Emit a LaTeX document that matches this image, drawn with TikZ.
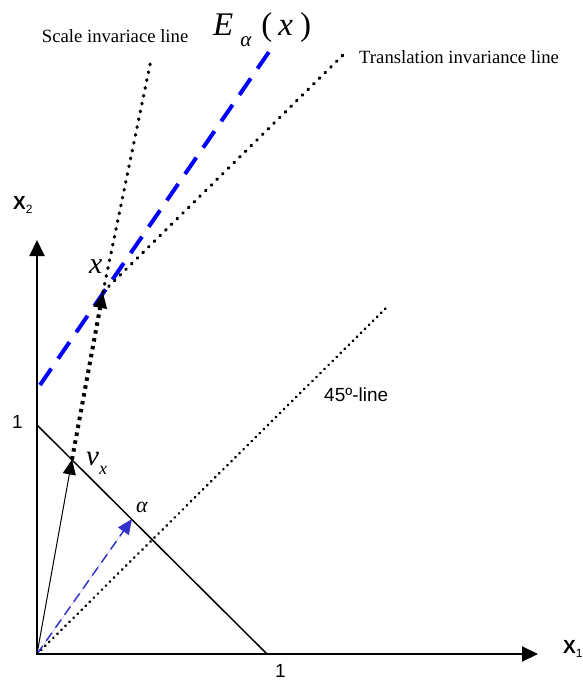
\documentclass[tikz,border=0pt]{standalone}
\usepackage{fontspec}
\setmainfont{Liberation Serif}
\newfontfamily\arialfont{Liberation Sans}
\usetikzlibrary{arrows.meta}
\definecolor{midblue}{RGB}{51,51,204}
\begin{document}
\begin{tikzpicture}[x=1pt,y=-1pt,
  axis/.style={line width=2pt,-{Triangle[length=16pt,width=15pt]}},
  simplex/.style={line width=1.5pt},
  thinarrow/.style={line width=1pt,-{Triangle[length=15pt,width=13pt]}},
  bigdots/.style={line width=4pt,dash pattern=on 3.5pt off 4.5pt,-{Triangle[length=16pt,width=13pt]}},
  invdots/.style={line width=3.2pt,line cap=round,dash pattern=on 0.8pt off 7.2pt},
  diagdots/.style={line width=2.6pt,line cap=round,dash pattern=on 0.5pt off 5.2pt},
  eline/.style={draw=blue,line width=4pt,dash pattern=on 20pt off 12pt},
  alphaarrow/.style={draw=midblue,fill=midblue,line width=1.5pt,dash pattern=on 10pt off 6pt,-{Triangle[length=15pt,width=13pt]}},
  serif/.style={inner sep=0pt,font=\fontsize{18.7}{20}\selectfont},
  sans/.style={inner sep=0pt,font=\arialfont\fontsize{19}{20}\selectfont},
  axlab/.style={inner sep=0pt,font=\arialfont\bfseries\fontsize{19}{20}\selectfont}
]
\fill[white] (0,0) rectangle (582,683);
\useasboundingbox (0,0) rectangle (582,683);

% points
\coordinate (O) at (37,654);
\coordinate (X1) at (538,654);
\coordinate (X2) at (37,240);
\coordinate (S1) at (37,425);
\coordinate (S2) at (267,654);
\coordinate (V) at (72,459.5);
\coordinate (A) at (132,519);
\coordinate (X) at (103,292);
\coordinate (ST) at (151,60);
\coordinate (TT) at (343,55);
\coordinate (DT) at (387,307);
\coordinate (EB) at (40,385);
\coordinate (ET) at (273,46);

% lines
\draw[diagdots] (O) -- (DT);
\draw[eline] (EB) -- (ET);
\draw[invdots] (X) -- (ST);
\draw[invdots] (X) -- (TT);
\draw[alphaarrow] (O) -- (A);
\draw[simplex] (S1) -- (S2);
\draw[thinarrow] (O) -- (V);
\draw[bigdots] (V) -- (X);
\draw[axis] (O) -- (X1);
\draw[axis] (O) -- (X2);

% labels
\node[serif,anchor=base west] (scl) at (41.7,42.7) {Scale invariace line};
\node[serif,anchor=base west] (trl) at (359,63) {Translation invariance line};
\node[anchor=base west,inner sep=0pt] (elab) at (213,35) {\fontsize{33}{33}\selectfont\itshape E\hspace{7pt}\raisebox{-11pt}{\fontsize{21}{21}\selectfont α}\hspace{10pt}\upshape(\hspace{6pt}\itshape x\hspace{7pt}\upshape)};
\node[anchor=base west,inner sep=0pt] (xlab) at (89,273) {\fontsize{30}{30}\selectfont\itshape x};
\node[anchor=base west,inner sep=0pt] (vlab) at (86,465) {\fontsize{29}{29}\selectfont\itshape v\raisebox{-9pt}{\fontsize{18}{18}\selectfont x}};
\node[anchor=base west,inner sep=0pt] (alab) at (136,512) {\fontsize{22}{22}\selectfont\itshape α};
\node[sans,anchor=base west] (dlab) at (324,401.7) {45º-line};
\node[sans] (one1) at (17.5,421.5) {1};
\node[sans] (one2) at (280.5,671) {1};
\node[axlab,anchor=base west] (x2lab) at (13,209) {X\raisebox{-4pt}{\mdseries\fontsize{12}{12}\selectfont 2}};
\node[axlab,anchor=base west] (x1lab) at (563,653) {X\raisebox{-4pt}{\mdseries\fontsize{12}{12}\selectfont 1}};
\end{tikzpicture}
\end{document}
